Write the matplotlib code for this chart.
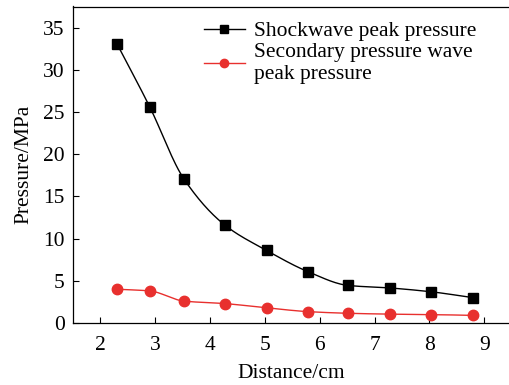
import numpy as np
import matplotlib
matplotlib.use("Agg")
import matplotlib.pyplot as plt

# data
distance = [2.3, 2.9, 3.52, 4.27, 5.03, 5.78, 6.52, 7.28, 8.03, 8.8]
shock_peak = [33.1, 25.6, 17.1, 11.6, 8.6, 6.1, 4.45, 4.15, 3.7, 3.0]
secondary_peak = [4.0, 3.8, 2.6, 2.3, 1.8, 1.35, 1.15, 1.05, 1.0, 0.9]

label_shock = "Shockwave peak pressure"
label_second = "Secondary pressure wave\npeak pressure"


def smooth_line(x, y, n=25):
    # monotone cubic (PCHIP) connector drawn through the measured points
    x = np.asarray(x, float)
    y = np.asarray(y, float)
    h = np.diff(x)
    d = np.diff(y) / h
    k = len(x)
    m = np.zeros(k)
    m[0], m[-1] = d[0], d[-1]
    for i in range(1, k - 1):
        if d[i - 1] * d[i] > 0:
            w1 = 2 * h[i] + h[i - 1]
            w2 = h[i] + 2 * h[i - 1]
            m[i] = (w1 + w2) / (w1 / d[i - 1] + w2 / d[i])
    xs, ys = [], []
    for i in range(k - 1):
        t = np.linspace(0, 1, n, endpoint=(i == k - 2))
        h00 = 2 * t ** 3 - 3 * t ** 2 + 1
        h10 = t ** 3 - 2 * t ** 2 + t
        h01 = -2 * t ** 3 + 3 * t ** 2
        h11 = t ** 3 - t ** 2
        xs.extend(x[i] + t * h[i])
        ys.extend(h00 * y[i] + h10 * h[i] * m[i] + h01 * y[i + 1]
                  + h11 * h[i] * m[i + 1])
    return xs, ys


plt.rcParams["font.family"] = ["Liberation Serif", "DejaVu Serif"]
plt.rcParams["font.size"] = 15.5

fig = plt.figure(figsize=(5.09, 3.85), dpi=100)
ax = fig.add_axes([73 / 509, 62 / 385, 437 / 509, 316.5 / 385])

red = "#e8302e"

sx, sy = smooth_line(distance, shock_peak)
ax.plot(sx, sy, color="black", lw=1.0)
ax.plot(distance, shock_peak, "s", color="black", ms=7)
rx, ry = smooth_line(distance, secondary_peak)
ax.plot(rx, ry, color=red, lw=1.0)
ax.plot(distance, secondary_peak, "o", color=red, ms=7.5)

# legend proxies
h1, = ax.plot([], [], "-s", color="black", lw=1.0, ms=5.5)
h2, = ax.plot([], [], "-o", color=red, lw=1.0, ms=6)
ax.legend([h1, h2], [label_shock, label_second], loc="upper left",
          bbox_to_anchor=(0.27, 0.995), frameon=False, fontsize=15.5,
          handlelength=1.9, handletextpad=0.45, labelspacing=0.08,
          borderaxespad=0.2)

ax.set_xlim(1.5, 9.47)
ax.set_ylim(0, 37.5)
ax.set_xticks(range(2, 10))
ax.set_yticks(range(0, 36, 5))
ax.tick_params(direction="in", length=4, width=0.8, labelsize=15.5)
ax.tick_params(axis="x", pad=9)
ax.tick_params(axis="y", pad=6)
ax.spines["right"].set_visible(False)
for s in ax.spines.values():
    s.set_linewidth(0.9)

ax.set_xlabel("Distance/cm", fontsize=15.5, labelpad=7)
ax.set_ylabel("Pressure/MPa", fontsize=15.5, labelpad=7)

fig.savefig("out.png", dpi=100)
